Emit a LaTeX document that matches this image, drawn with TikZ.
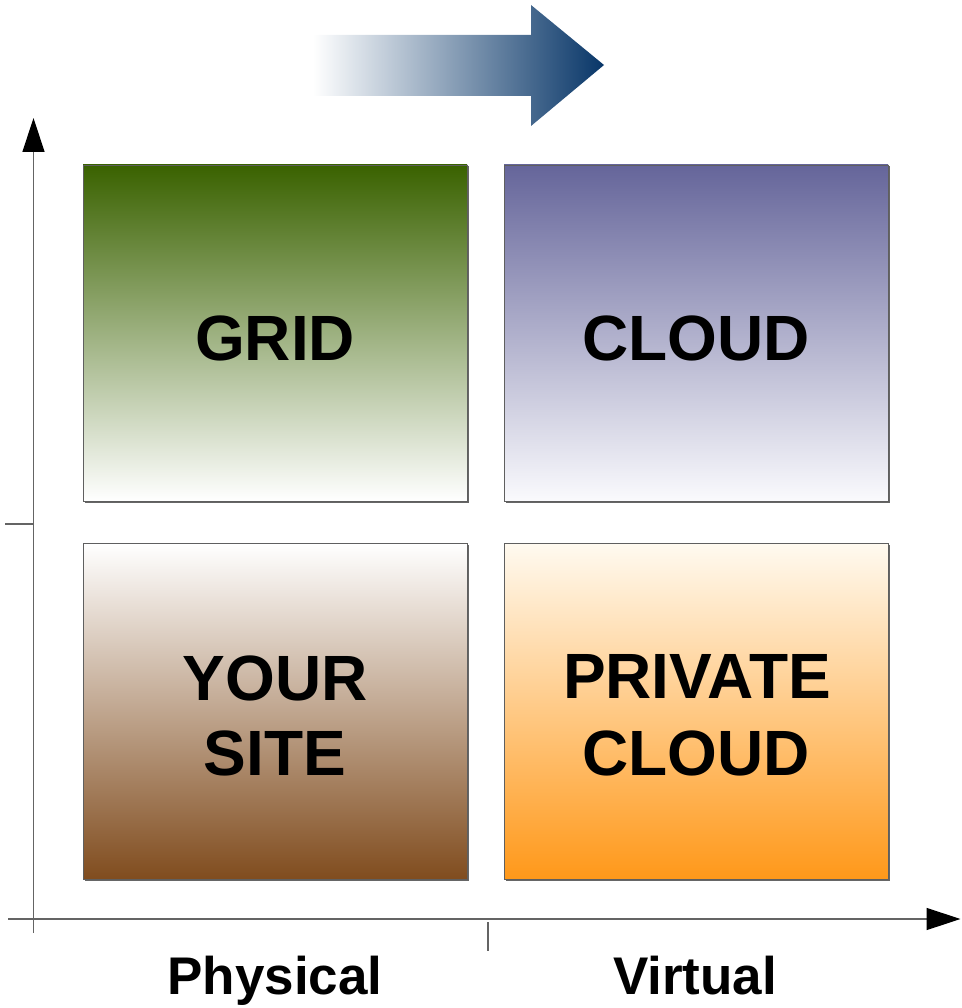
\documentclass[tikz,border=0pt]{standalone}
\usepackage{fontspec}
\setmainfont{Liberation Sans}
\usetikzlibrary{arrows.meta}

\definecolor{gridtop}{RGB}{58,98,0}
\definecolor{cloudtop}{RGB}{101,101,154}
\definecolor{cloudbot}{RGB}{250,250,253}
\definecolor{sitebot}{RGB}{128,76,30}
\definecolor{privtop}{RGB}{255,250,240}
\definecolor{privbot}{RGB}{255,152,25}
\definecolor{navy}{RGB}{8,54,104}
\definecolor{axisgray}{RGB}{100,100,100}
\definecolor{edgegray}{RGB}{95,95,95}

\begin{document}
\begin{tikzpicture}[x=1pt,y=-1pt,
  quad/.style={rectangle, draw=edgegray, line width=0.9pt,
    minimum width=384pt, minimum height=336pt, inner sep=0pt},
  quadshadow/.style={fill=black!60},
  biglabel/.style={font=\bfseries\fontsize{64}{75}\selectfont, anchor=base, inner sep=0pt},
  axislabel/.style={font=\bfseries\fontsize{53}{60}\selectfont, anchor=base, inner sep=0pt},
  axisline/.style={draw=axisgray, line width=1.4pt,
    -{Triangle[length=34pt,width=22pt,color=black,fill=black]}},
  tickline/.style={draw=axisgray, line width=1.1pt},
]
\useasboundingbox (0,0) rectangle (961,1008);

% direction arrow at the top
\shade[left color=white, right color=navy]
  (313,35) -- (531,35) -- (531,5) -- (604,65) -- (531,126) -- (531,96) -- (313,96) -- cycle;

% axes
\coordinate (yfoot) at (33.5,933);
\coordinate (ytop) at (33.5,118);
\coordinate (xfoot) at (8,919);
\coordinate (xtip) at (960.5,919);
\coordinate (ytickA) at (5,524);
\coordinate (ytickB) at (33.5,524);
\coordinate (xtickA) at (488,922);
\coordinate (xtickB) at (488,951);
\draw[axisline] (yfoot) -- (ytop);
\draw[axisline] (xfoot) -- (xtip);
\draw[tickline] (ytickA) -- (ytickB);
\draw[tickline] (xtickA) -- (xtickB);

% shadows behind the four quadrants
\fill[quadshadow] (84.5,166.5) rectangle (468.5,502.5);
\fill[quadshadow] (505.5,166.5) rectangle (889.5,502.5);
\fill[quadshadow] (84.5,544.5) rectangle (468.5,881);
\fill[quadshadow] (505.5,544.5) rectangle (889.5,881);

% quadrants
\node[quad, top color=gridtop, middle color=gridtop!52!white, bottom color=white]
  (grid) at (275,333) {};
\node[quad, top color=cloudtop, middle color=cloudtop!52!white, bottom color=cloudbot]
  (cloud) at (696,333) {};
\node[quad, top color=white, bottom color=sitebot]
  (site) at (275,711.5) {};
\node[quad, top color=privtop, bottom color=privbot]
  (private) at (696,711.5) {};

% quadrant labels
\node[biglabel] (gridtxt) at (275,360) {GRID};
\node[biglabel] (cloudtxt) at (696,360) {CLOUD};
\node[biglabel] (yourtxt) at (275,700) {YOUR};
\node[biglabel] (sitetxt) at (275,775) {SITE};
\node[biglabel] (privtxt) at (697,698) {PRIVATE};
\node[biglabel] (pcloudtxt) at (696,775) {CLOUD};

% axis labels
\node[axislabel] (physical) at (275,994) {Physical};
\node[axislabel] (virtual) at (695,994) {Virtual};
\end{tikzpicture}
\end{document}
